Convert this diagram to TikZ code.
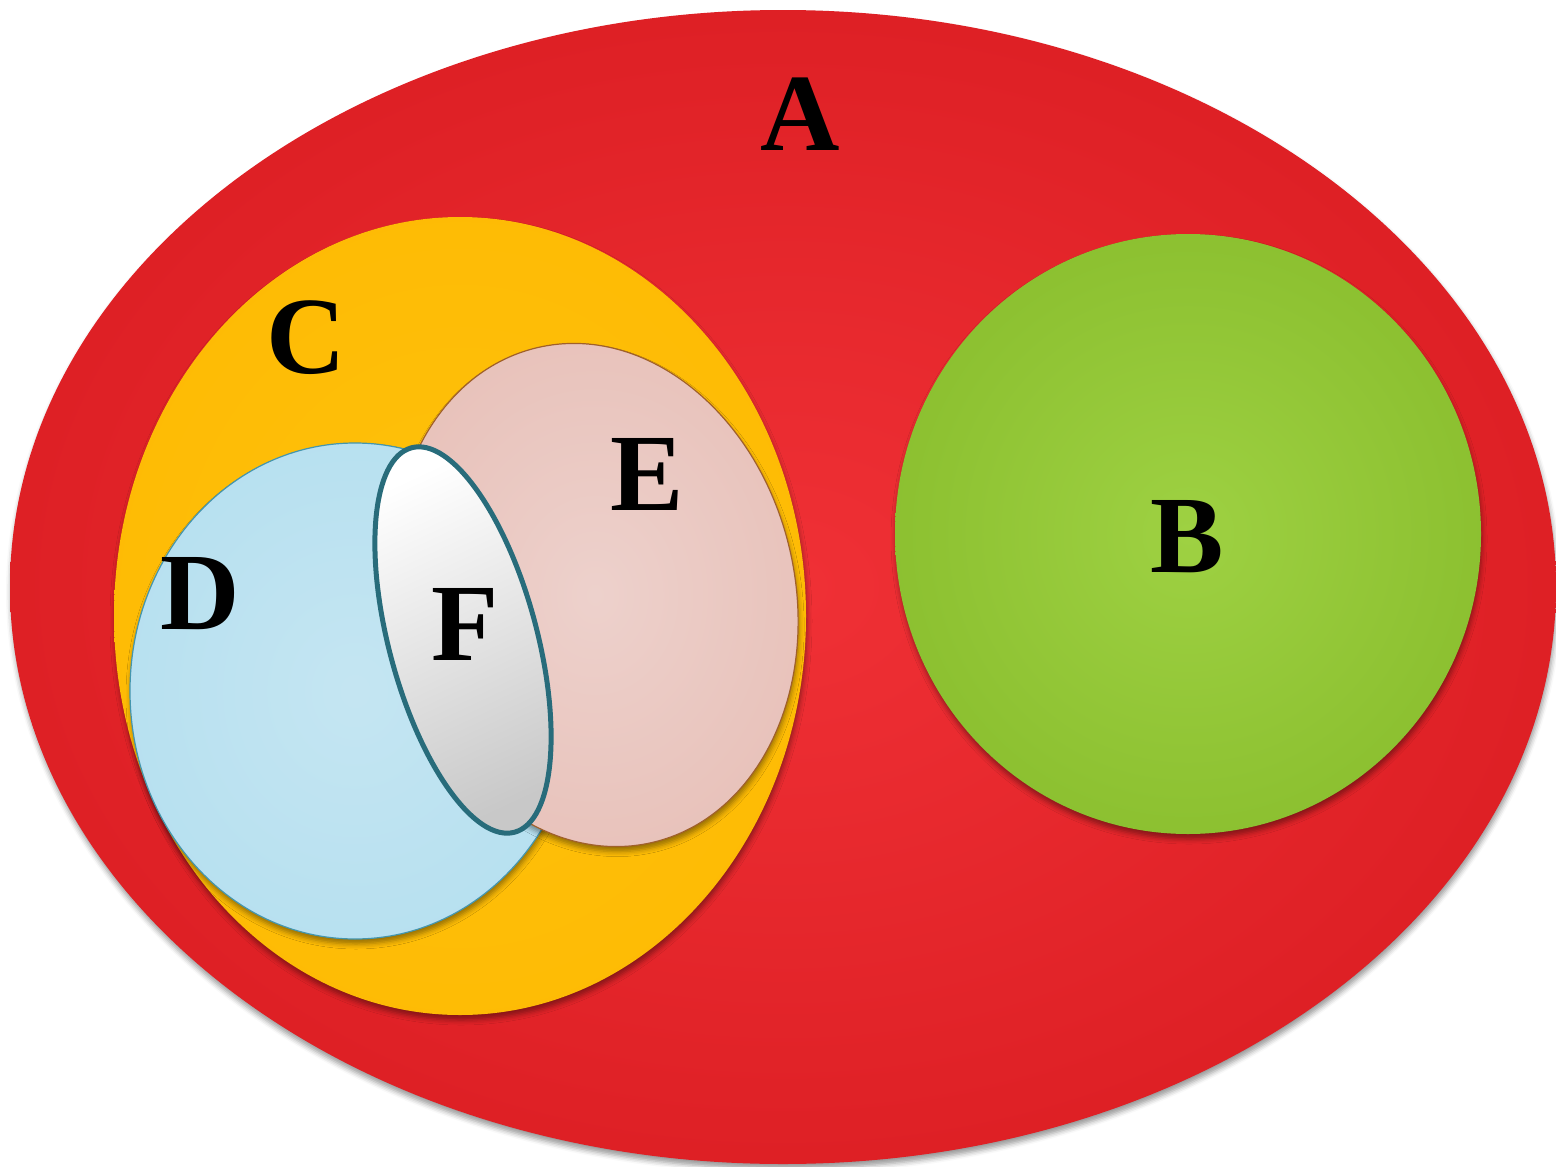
\documentclass[tikz,border=0pt]{standalone}
\usepackage{fontspec}
\setmainfont{Liberation Serif}
\usetikzlibrary{shadows.blur}
\pgfdeclareradialshading{shA}{\pgfpoint{0bp}{0bp}}{rgb(0bp)=(0.94,0.19,0.21); rgb(50bp)=(0.80,0.06,0.08); rgb(100bp)=(0.80,0.06,0.08)}
\pgfdeclareradialshading{shB}{\pgfpoint{0bp}{0bp}}{rgb(0bp)=(0.62,0.82,0.26); rgb(50bp)=(0.48,0.69,0.12); rgb(100bp)=(0.48,0.69,0.12)}
\pgfdeclareradialshading{shC}{\pgfpoint{0bp}{0bp}}{rgb(0bp)=(1.0,0.76,0.04); rgb(50bp)=(0.99,0.71,0.0); rgb(100bp)=(0.99,0.71,0.0)}
\pgfdeclareradialshading{shD}{\pgfpoint{0bp}{0bp}}{rgb(0bp)=(0.77,0.90,0.95); rgb(50bp)=(0.67,0.86,0.93); rgb(100bp)=(0.67,0.86,0.93)}
\pgfdeclareradialshading{shE}{\pgfpoint{0bp}{0bp}}{rgb(0bp)=(0.93,0.82,0.80); rgb(50bp)=(0.89,0.70,0.66); rgb(100bp)=(0.89,0.70,0.66)}
\definecolor{Dborder}{HTML}{4496AE}
\definecolor{Eborder}{HTML}{A0602A}
\definecolor{Fborder}{HTML}{286C7B}
\definecolor{Fgrey}{HTML}{C8C8C8}
\tikzset{
  shad/.style={blur shadow={shadow xshift=1pt, shadow yshift=-5pt, shadow blur radius=5pt, shadow opacity=40}},
  lab/.style={inner sep=0pt, font=\fontsize{110}{120}\selectfont\bfseries, text=black}
}
\begin{document}
\begin{tikzpicture}[x=1pt,y=1pt]
\useasboundingbox (0,0) rectangle (1556,-1167);
% A
\shade[shad, shading=shA] (783,-587) ellipse [x radius=773, y radius=577];
% B
\shade[shad, shading=shB] (1188,-534) ellipse [x radius=293, y radius=300];
% C
\shade[shad, shading=shC] (460,-616) ellipse [x radius=346, y radius=399];
% D
\shadedraw[shad, shading=shD, draw=Dborder, line width=1.2pt] (355,-691) ellipse [x radius=225, y radius=248];
% E
\shadedraw[shad, shading=shE, draw=Eborder, line width=1.2pt, rotate around={13:(595,-595)}] (595,-595) ellipse [x radius=200, y radius=254];
% F
\shadedraw[top color=white, bottom color=Fgrey, shading angle=25, draw=Fborder, line width=5pt, rotate around={15:(463,-640)}] (463,-640) ellipse [x radius=74, y radius=199];
% labels
\node[lab] (la) at (800,-114) {A};
\node[lab] (lb) at (1187,-537) {B};
\node[lab] (lc) at (306,-338) {C};
\node[lab] (ld) at (200,-594) {D};
\node[lab] (le) at (647,-474) {E};
\node[lab] (lf) at (465,-624) {F};
\end{tikzpicture}
\end{document}
